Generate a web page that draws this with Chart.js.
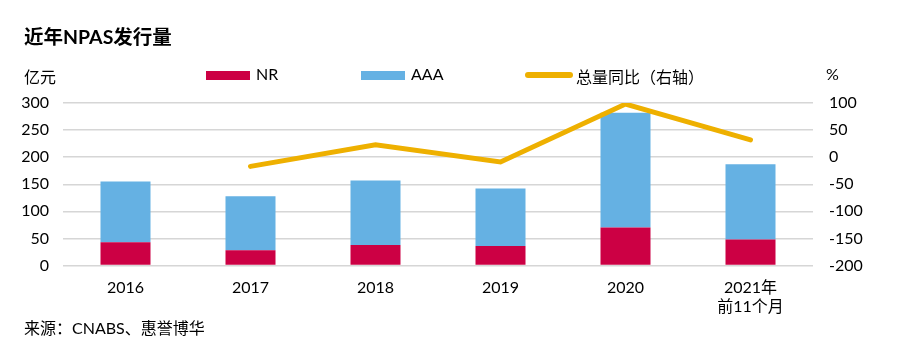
<!DOCTYPE html>
<html><head><meta charset="utf-8">
<script src="https://cdn.jsdelivr.net/npm/chart.js@4"></script>
<style>
html,body{margin:0;padding:0;background:#fff;}
#wrap{position:relative;width:901px;height:351px;font-family:Lato,"Noto Sans CJK SC",sans-serif;color:#000;}
canvas{position:absolute;left:0;top:0;}
.t{position:absolute;white-space:nowrap;}
#title{left:24px;top:21px;font-size:19.5px;font-weight:bold;}
.lg{font-size:16px;top:64px;}
.sw{position:absolute;}
#src{left:24px;top:315px;font-size:16px;}
</style></head>
<body><div id="wrap">
<canvas id="c" width="901" height="351"></canvas>
<div class="t" id="title">近年NPAS发行量</div>
<div class="t lg" style="left:24px;">亿元</div>
<div class="sw" style="left:206px;top:71px;width:44px;height:9px;background:#CC0044;"></div>
<div class="t lg" style="left:256px;">NR</div>
<div class="sw" style="left:361px;top:71px;width:44px;height:9px;background:#65B1E3;"></div>
<div class="t lg" style="left:411px;">AAA</div>
<div class="sw" style="left:525px;top:72px;width:48px;height:6px;border-radius:3px;background:#EEB000;"></div>
<div class="t lg" style="left:576px;">总量同比（右轴）</div>
<div class="t lg" style="left:826px;">%</div>
<div class="t" id="src">来源：CNABS、惠誉博华</div>
</div>
<script>
const categories = ["2016","2017","2018","2019","2020",["2021年","前11个月"]];
const nrValues = [43, 28, 38, 36, 70, 48];
const aaaValues = [112, 100, 119, 106, 212, 139];
const yoyValues = [null, -17, 23, -9, 98, 32];

const fontFam = 'Lato, "Noto Sans CJK SC", sans-serif';
new Chart(document.getElementById('c'), {
  data: {
    labels: categories,
    datasets: [
      {type:'line', label:'总量同比（右轴）', data: yoyValues, yAxisID:'y1', borderColor:'#EEB000', borderWidth:5, pointRadius:0, borderCapStyle:'round', borderJoinStyle:'miter', tension:0, order:0},
      {type:'bar', label:'NR', data: nrValues, backgroundColor:'#CC0044', yAxisID:'y', stack:'s', order:1, barPercentage:0.4, categoryPercentage:1},
      {type:'bar', label:'AAA', data: aaaValues, backgroundColor:'#65B1E3', yAxisID:'y', stack:'s', order:1, barPercentage:0.4, categoryPercentage:1}
    ]
  },
  options: {
    responsive:false, animation:false,
    layout:{padding:{top:103, bottom:0, left:0, right:0}},
    plugins:{legend:{display:false}, tooltip:{enabled:false}, title:{display:false}},
    scales:{
      x:{stacked:true, grid:{display:false}, border:{display:false},
         ticks:{color:'#000', font:{family:fontFam, size:16}, padding:5, maxRotation:0, autoSkip:false},
         afterFit(s){ s.height = 85.5; }},
      y:{stacked:true, position:'left', min:0, max:300,
         ticks:{stepSize:50, color:'#000', font:{family:fontFam, size:16}, padding:14},
         grid:{color:'#d6d6d6', lineWidth:1.5, drawTicks:false}, border:{display:false},
         afterFit(s){ s.width = 63; }},
      y1:{position:'right', min:-200, max:100,
         ticks:{stepSize:50, color:'#000', font:{family:fontFam, size:16}, padding:16},
         grid:{display:false, drawTicks:false}, border:{display:false},
         afterFit(s){ s.width = 88; }}
    }
  }
});
</script>
</body></html>
